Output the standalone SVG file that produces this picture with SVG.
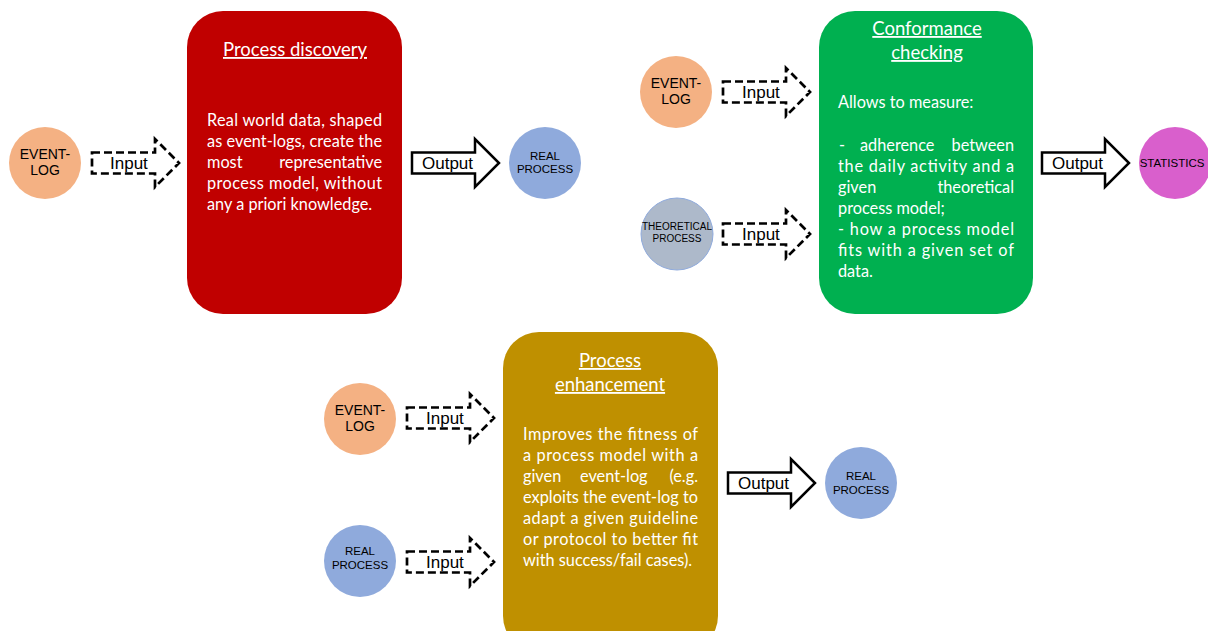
<svg xmlns="http://www.w3.org/2000/svg" width="1208" height="631" viewBox="0 0 1208 631">
<style>
.box-title{font-family:Lato,"Liberation Sans",sans-serif;font-size:18.5px;fill:#fff;text-anchor:middle;text-decoration:underline}
.body{font-family:Lato,"Liberation Sans",sans-serif;font-size:16.3px;fill:#fff}
.end{text-anchor:end}
.clabel{font-family:"Liberation Sans",Arial,sans-serif;fill:#000;text-anchor:middle}
.alabel{font-family:"Liberation Sans",Arial,sans-serif;font-size:17px;fill:#000}
.din{fill:#fff;stroke:#000;stroke-width:2.7;stroke-dasharray:8 4;stroke-linejoin:miter}
.dout{fill:#fff;stroke:#000;stroke-width:2.5;stroke-linejoin:miter}
</style>
<defs>
<path id="arr" d="M0,-10.5 H63 V-24 L87,0 L63,24 V10.5 H0 Z"/>
</defs>
<rect width="1208" height="631" fill="#fff"/>

<g id="discovery">
<rect x="187" y="11" width="215" height="303" rx="36" fill="#c00000"/>
<text class="box-title" x="295" y="56">Process discovery</text>
<text class="body" x="207" y="126" textLength="175" lengthAdjust="spacing">Real world data, shaped</text>
<text class="body" x="207" y="147" textLength="175" lengthAdjust="spacing">as event-logs, create the</text>
<text class="body" x="207" y="168">most</text>
<text class="body end" x="382" y="168">representative</text>
<text class="body" x="207" y="189" textLength="175" lengthAdjust="spacing">process model, without</text>
<text class="body" x="207" y="210">any a priori knowledge.</text>
</g>

<g id="conformance">
<rect x="819" y="11" width="214" height="303" rx="36" fill="#00b050"/>
<text class="box-title" x="927" y="35">Conformance</text>
<text class="box-title" x="927" y="59">checking</text>
<text class="body" x="838" y="108">Allows to measure:</text>
<text class="body" x="839" y="151">-</text>
<text class="body" x="860" y="151">adherence</text>
<text class="body end" x="1014" y="151">between</text>
<text class="body" x="838" y="172" textLength="176" lengthAdjust="spacing">the daily activity and  a</text>
<text class="body" x="838" y="193">given</text>
<text class="body end" x="1014" y="193">theoretical</text>
<text class="body" x="838" y="214">process model;</text>
<text class="body" x="838" y="235" textLength="176" lengthAdjust="spacing">- how a process model</text>
<text class="body" x="838" y="256" textLength="176" lengthAdjust="spacing">fits with a given set of</text>
<text class="body" x="838" y="277">data.</text>
</g>

<g id="enhancement">
<rect x="503" y="332" width="215" height="320" rx="36" fill="#bf9000"/>
<text class="box-title" x="610" y="367">Process</text>
<text class="box-title" x="610" y="391">enhancement</text>
<text class="body" x="523" y="440" textLength="175" lengthAdjust="spacing">Improves the fitness of</text>
<text class="body" x="523" y="461" textLength="175" lengthAdjust="spacing">a process model with a</text>
<text class="body" x="523" y="482">given</text>
<text class="body" x="580" y="482">event-log</text>
<text class="body end" x="698" y="482">(e.g.</text>
<text class="body" x="523" y="503" textLength="175" lengthAdjust="spacing">exploits the event-log to</text>
<text class="body" x="523" y="524" textLength="175" lengthAdjust="spacing">adapt a given guideline</text>
<text class="body" x="523" y="545" textLength="175" lengthAdjust="spacing">or protocol to better fit</text>
<text class="body" x="523" y="566">with success/fail cases).</text>
</g>

<g id="eventlog-1">
<circle cx="45" cy="163" r="36" fill="#f4b183"/>
<text class="clabel" font-size="14" x="45" y="159">EVENT-</text>
<text class="clabel" font-size="14" x="45" y="175">LOG</text>
</g>
<g id="realprocess-1">
<circle cx="545" cy="163" r="36" fill="#8faadc"/>
<text class="clabel" font-size="11.5" x="545" y="160">REAL</text>
<text class="clabel" font-size="11.5" x="545" y="173">PROCESS</text>
</g>
<g id="eventlog-2">
<circle cx="676" cy="92" r="36" fill="#f4b183"/>
<text class="clabel" font-size="14" x="676" y="88">EVENT-</text>
<text class="clabel" font-size="14" x="676" y="104">LOG</text>
</g>
<g id="theoretical">
<circle cx="677" cy="234" r="36" fill="#adb9ca" stroke="#8faadc" stroke-width="1"/>
<text class="clabel" font-size="10" x="677" y="230">THEORETICAL</text>
<text class="clabel" font-size="10" x="677" y="242">PROCESS</text>
</g>
<g id="statistics">
<circle cx="1175" cy="163" r="36" fill="#d95fcc"/>
<text class="clabel" font-size="11.5" x="1172" y="167">STATISTICS</text>
</g>
<g id="eventlog-3">
<circle cx="360" cy="419" r="36" fill="#f4b183"/>
<text class="clabel" font-size="14" x="360" y="415">EVENT-</text>
<text class="clabel" font-size="14" x="360" y="431">LOG</text>
</g>
<g id="realprocess-2">
<circle cx="360" cy="561" r="36" fill="#8faadc"/>
<text class="clabel" font-size="11.5" x="360" y="555">REAL</text>
<text class="clabel" font-size="11.5" x="360" y="569">PROCESS</text>
</g>
<g id="realprocess-3">
<circle cx="861" cy="483" r="36" fill="#8faadc"/>
<text class="clabel" font-size="11.5" x="861" y="480">REAL</text>
<text class="clabel" font-size="11.5" x="861" y="494">PROCESS</text>
</g>

<g id="connectors">
<use href="#arr" class="din" x="92" y="163"/>
<text class="alabel" x="110" y="169">Input</text>
<use href="#arr" class="dout" x="412" y="163"/>
<text class="alabel" font-size="18" x="422" y="169">Output</text>
<use href="#arr" class="din" x="723" y="92"/>
<text class="alabel" x="742" y="98">Input</text>
<use href="#arr" class="din" x="723" y="234"/>
<text class="alabel" x="742" y="240">Input</text>
<use href="#arr" class="dout" x="1042" y="163"/>
<text class="alabel" font-size="18" x="1052" y="169">Output</text>
<use href="#arr" class="din" x="407" y="418"/>
<text class="alabel" x="426" y="424">Input</text>
<use href="#arr" class="din" x="407" y="562"/>
<text class="alabel" x="426" y="568">Input</text>
<use href="#arr" class="dout" x="728" y="483"/>
<text class="alabel" font-size="18" x="738" y="489">Output</text>
</g>
</svg>
